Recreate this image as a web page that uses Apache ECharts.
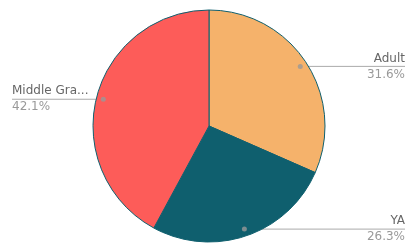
<!DOCTYPE html>
<html>
<head>
<meta charset="utf-8">
<script src="https://cdn.jsdelivr.net/npm/echarts@6/dist/echarts.min.js"></script>
<style>html,body{margin:0;padding:0;background:#fff}#c{width:417px;height:251px}</style>
</head>
<body>
<div id="c"></div>
<script>
const categories = ['Adult', 'YA', 'Middle Grade'];
const values = [6, 5, 8];
const colors = ['#f5b26b', '#0f5f6e', '#fd5c59'];

const chart = echarts.init(document.getElementById('c'), null, {renderer: 'canvas'});
const pieData = categories.map((c, i) => ({name: c, value: values[i], itemStyle: {color: colors[i]}}));
const total = values.reduce((a, b) => a + b, 0);
let cum = 0;
const dots = values.map(v => { const mid = cum + v / 2; cum += v; return [109, mid]; });

const center = [209, 126];
chart.setOption({
  animation: false,
  polar: {center: center, radius: 116},
  angleAxis: {type: 'value', min: 0, max: total, startAngle: 90, clockwise: true, show: false},
  radiusAxis: {type: 'value', min: 0, max: 116, show: false},
  series: [
    {
      type: 'pie', center: center, radius: 116, silent: true,
      data: pieData,
      itemStyle: {borderColor: '#0f5f6e', borderWidth: 1},
      label: {show: false}, labelLine: {show: false}
    },
    {
      type: 'pie', center: center, radius: 109, silent: true, percentPrecision: 1,
      data: categories.map((c, i) => ({name: c, value: values[i]})),
      itemStyle: {color: 'rgba(0,0,0,0)', borderWidth: 0},
      label: {
        show: true, alignTo: 'edge', edgeDistance: 12, distanceToLabelLine: 0,
        width: 80, overflow: 'truncate', ellipsis: '...',
        formatter: '{name|{b}}\n{pct|{d}%}',
        fontFamily: 'DejaVu Sans',
        rich: {
          name: {fontSize: 12, color: '#666', lineHeight: 16, fontFamily: 'DejaVu Sans'},
          pct: {fontSize: 12, color: '#999', lineHeight: 16, fontFamily: 'DejaVu Sans'}
        }
      },
      labelLine: {show: true, length: 0, length2: 0, lineStyle: {color: '#aaa', width: 1}},
      labelLayout: function (params) {
        const points = params.labelLinePoints;
        if (!points) return {};
        const isLeft = params.labelRect.x < chart.getWidth() / 2;
        points[2][0] = isLeft ? params.labelRect.x : params.labelRect.x + params.labelRect.width;
        return {labelLinePoints: points};
      }
    },
    {
      type: 'scatter', coordinateSystem: 'polar', silent: true, z: 5,
      symbolSize: 5, itemStyle: {color: '#999'},
      data: dots
    }
  ]
});
</script>
</body>
</html>
